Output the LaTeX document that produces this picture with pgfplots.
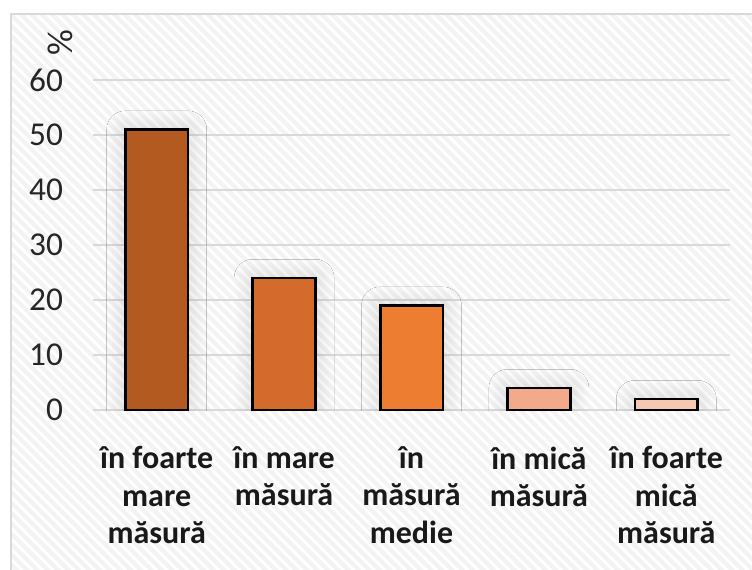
\documentclass[border=0pt]{standalone}
\usepackage{fontspec}
\setmainfont{Carlito}
\usepackage{pgfplots}
\pgfplotsset{compat=1.18}
\usetikzlibrary{patterns.meta,shadows.blur}
\definecolor{c1}{HTML}{B35A21}
\definecolor{c2}{HTML}{D46A2B}
\definecolor{c3}{HTML}{ED7D31}
\definecolor{c4}{HTML}{F2AA8B}
\definecolor{c5}{HTML}{F7C8B1}
\definecolor{gridc}{HTML}{D9D9D9}
\definecolor{bgc}{HTML}{F3F3F3}
\begin{document}
\begin{tikzpicture}[x=0.75pt,y=0.75pt]
\path[use as bounding box] (0,0) rectangle (752,569);
\begin{scope}
\clip (0,0) rectangle (752,569);
\fill[white] (0,0) rectangle (752,569);
\fill[bgc] (11,-20) rectangle (770,555);
\fill[pattern={Lines[angle=-45,distance=5.5pt,line width=2.2pt]},pattern color=white] (11,-20) rectangle (770,555);
\draw[gridc,line width=2.2pt] (11,-20) rectangle (770,555);
\end{scope}
\node[rotate=90,font=\fontsize{27}{30}\selectfont,text=black!85] at (60,526) {\%};
\begin{axis}[
  at={(69.75pt,119.25pt)}, anchor=south west,
  scale only axis,
  width=477.75pt, height=247.5pt,
  xmin=-0.5, xmax=4.5, ymin=0, ymax=60,
  axis line style={draw=none},
  axis x line*=bottom,
  ytick={0,10,...,60},
  xtick={0,1,2,3,4},
  xticklabels={în foarte\\mare\\măsură, în mare\\măsură, în\\măsură\\medie, în mică\\măsură, în foarte\\mică\\măsură},
  major tick length=0pt,
  ymajorgrids,
  grid style={gridc,line width=1.6pt},
  /pgf/number format/assume math mode=true,
  yticklabel style={font=\fontsize{25}{28}\selectfont,text=black!85,xshift=-19pt},
  xticklabel style={font=\bfseries\fontsize{24}{28}\selectfont,align=center,text=black!90,yshift=-24pt},
  bar width=47pt,
  ybar, bar shift=0pt,
  every axis plot/.append style={draw=black,line width=2pt,
    blur shadow={shadow xshift=0pt,shadow yshift=0pt,shadow blur radius=14pt,shadow blur steps=12,shadow opacity=16,shadow scale=1.0}},
]
\addplot[fill=c1] coordinates {(0,51)};
\addplot[fill=c2] coordinates {(1,24)};
\addplot[fill=c3] coordinates {(2,19)};
\addplot[fill=c4] coordinates {(3,4)};
\addplot[fill=c5] coordinates {(4,2)};
\end{axis}
\end{tikzpicture}
\end{document}
